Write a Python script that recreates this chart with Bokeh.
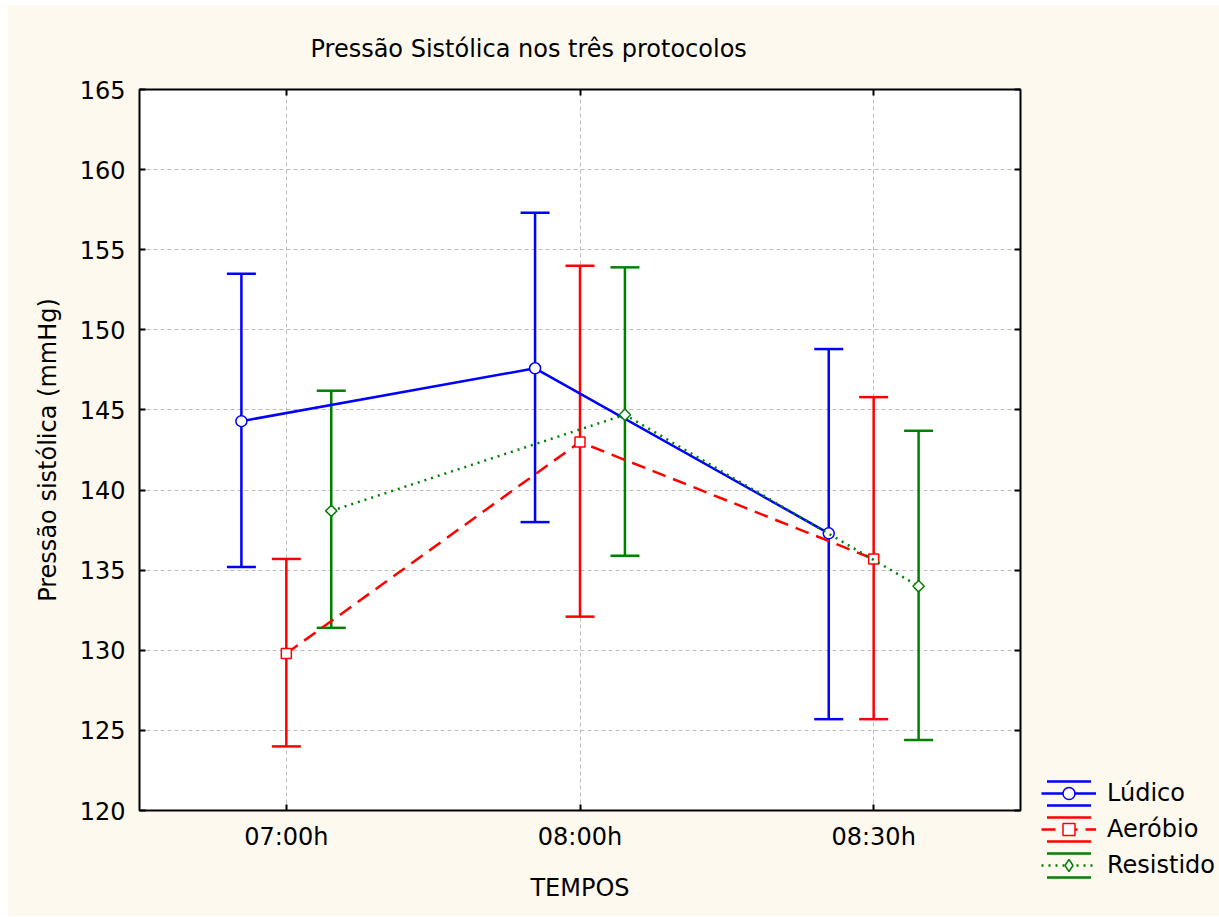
import numpy as np
from bokeh.plotting import figure
from bokeh.layouts import row, column
from bokeh.models import (FactorRange, Range1d, Whisker, TeeHead, Legend, LegendItem, Spacer,
                          ColumnDataSource, CategoricalAxis, LinearAxis, SingleIntervalTicker)
from bokeh.transform import dodge
from bokeh.embed import file_html
from bokeh.resources import INLINE

# ---- data ----
times = ["07:00h", "08:00h", "08:30h"]
series_names = ["Lúdico", "Aeróbio", "Resistido"]

ludico_mean = [144.3, 147.6, 137.3]
ludico_upper = [153.5, 157.3, 148.8]
ludico_lower = [135.2, 138.0, 125.7]

aerobio_mean = [129.8, 143.0, 135.7]
aerobio_upper = [135.7, 154.0, 145.8]
aerobio_lower = [124.0, 132.1, 125.7]

resistido_mean = [138.7, 144.7, 134.0]
resistido_upper = [146.2, 153.9, 143.7]
resistido_lower = [131.4, 135.9, 124.4]

means = [ludico_mean, aerobio_mean, resistido_mean]
uppers = [ludico_upper, aerobio_upper, resistido_upper]
lowers = [ludico_lower, aerobio_lower, resistido_lower]

# ---- styles ----
FONT = "DejaVu Sans"
BG = "#FEF9EE"
colors = ["#0000FF", "#FF0000", "#008000"]
dashes = ["solid", "14 8", "2 5"]
markers = ["circle", "square", "square"]
legend_markers = ["circle", "square", "diamond"]
marker_sizes = [11, 10, 8]
marker_angles = [0.0, 0.0, np.pi / 4]
offsets = [-0.153, 0.0, 0.153]
LW = 2.5

p = figure(x_range=FactorRange(factors=times), y_range=Range1d(120, 165),
           frame_width=881, frame_height=721,
           min_border_left=131, min_border_right=10, min_border_top=84, min_border_bottom=106,
           output_backend="svg", toolbar_location=None,
           title="Pressão Sistólica nos três protocolos",
           x_axis_label="TEMPOS", y_axis_label="Pressão sistólica (mmHg)")

p.background_fill_color = "white"
p.border_fill_color = BG
p.outline_line_color = "black"
p.outline_line_width = 2

p.title.text_font = FONT
p.title.text_font_size = "24px"
p.title.text_font_style = "normal"
p.title.text_color = "black"
p.title.align = "left"
p.title.offset = 171
p.title.standoff = 54

p.yaxis.ticker = SingleIntervalTicker(interval=5, num_minor_ticks=0)

for ax in [p.xaxis[0], p.yaxis[0]]:
    ax.major_label_text_font = FONT
    ax.major_label_text_font_size = "24px"
    ax.major_label_text_color = "black"
    ax.axis_label_text_font = FONT
    ax.axis_label_text_font_size = "24px"
    ax.axis_label_text_font_style = "normal"
    ax.axis_label_text_color = "black"
    ax.axis_line_color = None
    ax.major_tick_in = 6
    ax.major_tick_out = 0
    ax.major_tick_line_width = 2
    ax.minor_tick_line_color = None

p.yaxis.major_label_standoff = 14
p.yaxis.axis_label_standoff = 15
p.xaxis.major_label_standoff = 12
p.xaxis.axis_label_standoff = 20

r_ax = LinearAxis(ticker=SingleIntervalTicker(interval=5, num_minor_ticks=0),
                  major_label_text_font_size="1px", major_label_text_color=None,
                  axis_line_color=None,
                  major_tick_in=6, major_tick_out=0, major_tick_line_width=2,
                  minor_tick_line_color=None, major_label_standoff=0)
p.add_layout(r_ax, "right")
t_ax = CategoricalAxis(major_label_text_font_size="1px", major_label_text_color=None,
                       axis_line_color=None,
                       major_tick_in=6, major_tick_out=0, major_tick_line_width=2,
                       minor_tick_line_color=None, major_label_standoff=0)
p.add_layout(t_ax, "above")

for g in [p.xgrid[0], p.ygrid[0]]:
    g.grid_line_color = "#BDBDBD"
    g.grid_line_dash = "4 3"
    g.grid_line_width = 1

for i, name in enumerate(series_names):
    c = colors[i]
    src = ColumnDataSource(dict(t=times, mean=means[i], upper=uppers[i], lower=lowers[i]))
    xx = dodge("t", offsets[i], range=p.x_range)
    w = Whisker(base=xx, upper="upper", lower="lower", source=src, dimension="height",
                line_color=c, line_width=LW,
                upper_head=TeeHead(size=29, line_color=c, line_width=LW),
                lower_head=TeeHead(size=29, line_color=c, line_width=LW))
    p.add_layout(w)
    p.line(x=xx, y="mean", source=src, line_color=c, line_width=LW, line_dash=dashes[i])
    p.scatter(x=xx, y="mean", source=src, marker=markers[i], size=marker_sizes[i],
              angle=marker_angles[i], fill_color="white", line_color=c, line_width=1.5)

# ---- legend: small separate figure placed to the right, below a spacer ----
lf = figure(width=189, height=123, x_range=Range1d(0, 1), y_range=Range1d(0, 1),
            min_border=0, output_backend="svg", toolbar_location=None, title=None)
lf.axis.visible = False
lf.grid.visible = False
lf.outline_line_color = None
lf.background_fill_color = BG
lf.border_fill_color = BG

NAN = np.array([np.nan])
items = []
for i, name in enumerate(series_names):
    c = colors[i]
    # error-bar caps (top/bottom edges of the swatch box only)
    cap = lf.quad(left=NAN, right=NAN, top=NAN, bottom=NAN, fill_color=None, line_color=c,
                  line_width=LW, line_dash="44 24")
    # vertical error-bar stem (zero-width ellipse swatch)
    stem = lf.ellipse(x=NAN, y=NAN, width=0, height=24, width_units="screen",
                      height_units="screen", fill_color=None, line_color=c, line_width=LW)
    ln = lf.line(x=NAN, y=NAN, line_color=c, line_width=LW, line_dash=dashes[i])
    mk = lf.scatter(x=NAN, y=NAN, marker=legend_markers[i],
                    fill_color="white", line_color=c, line_width=1.5)
    items.append(LegendItem(label=name, renderers=[cap, stem, ln, mk]))

legend = Legend(items=items, location=(11, 11), glyph_width=55, glyph_height=30,
                spacing=6, padding=0, margin=0, border_line_color=None,
                background_fill_alpha=0, label_standoff=11, label_text_font=FONT,
                label_text_font_size="24px", label_text_color="black")
lf.add_layout(legend)

right_col = column(Spacer(width=189, height=763), lf, spacing=0,
                   styles={"background-color": BG})
layout = row(p, right_col, spacing=0, margin=(5, 0, 0, 8),
             styles={"background-color": BG})
open("out.html", "w").write(file_html(layout, INLINE))
